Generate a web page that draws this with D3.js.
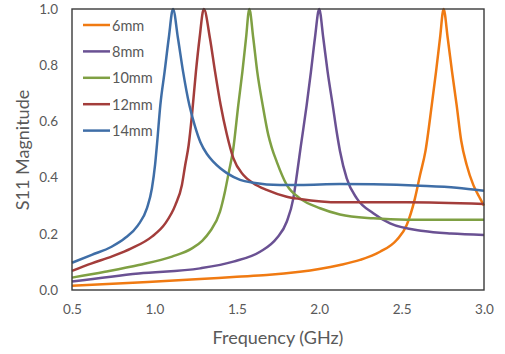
<!DOCTYPE html>
<html>
<head>
<meta charset="utf-8">
<script src="https://cdn.jsdelivr.net/npm/d3@7"></script>
<style>
  html, body { margin: 0; padding: 0; background: #fff; }
  svg { display: block; }
  text { font-family: Lato, "Open Sans", sans-serif; fill: #595959; }
</style>
</head>
<body>
<svg id="chart" width="505" height="354"></svg>
<script>
// S11 magnitude vs frequency (GHz), one [frequency, |S11|] list per slot length
const s11_6mm = [
  [0.50, 0.015], [0.90, 0.027], [1.277, 0.039], [1.50, 0.047], [1.681, 0.053],
  [1.883, 0.065], [2.00, 0.075], [2.126, 0.089], [2.248, 0.107], [2.369, 0.136],
  [2.470, 0.178], [2.531, 0.231], [2.581, 0.326], [2.612, 0.409], [2.645, 0.495],
  [2.683, 0.658], [2.709, 0.777], [2.733, 0.896], [2.755, 1.000], [2.780, 0.896],
  [2.806, 0.777], [2.834, 0.658], [2.862, 0.530], [2.895, 0.445], [2.935, 0.374],
  [2.976, 0.326], [3.00, 0.300]
];
const s11_8mm = [
  [0.50, 0.030], [0.905, 0.059], [1.277, 0.077], [1.479, 0.101], [1.641, 0.136],
  [1.742, 0.184], [1.803, 0.243], [1.843, 0.326], [1.867, 0.421], [1.888, 0.510],
  [1.924, 0.658], [1.950, 0.777], [1.974, 0.896], [2.000, 1.000], [2.025, 0.896],
  [2.051, 0.777], [2.082, 0.658], [2.106, 0.563], [2.126, 0.495], [2.167, 0.397],
  [2.228, 0.326], [2.328, 0.273], [2.430, 0.237], [2.632, 0.210], [2.80, 0.201],
  [3.00, 0.196]
];
const s11_10mm = [
  [0.50, 0.044], [0.70, 0.065], [0.905, 0.089], [1.107, 0.119], [1.228, 0.148],
  [1.290, 0.175], [1.337, 0.208], [1.398, 0.279], [1.428, 0.350], [1.452, 0.421],
  [1.478, 0.500], [1.509, 0.658], [1.534, 0.777], [1.556, 0.896], [1.576, 1.000],
  [1.600, 0.896], [1.624, 0.777], [1.657, 0.658], [1.691, 0.552], [1.712, 0.507],
  [1.742, 0.457], [1.803, 0.374], [1.883, 0.326], [2.005, 0.291], [2.126, 0.269],
  [2.328, 0.255], [2.531, 0.250], [3.00, 0.250]
];
const s11_12mm = [
  [0.50, 0.068], [0.62, 0.095], [0.74, 0.119], [0.86, 0.148], [0.985, 0.190],
  [1.066, 0.237], [1.127, 0.302], [1.167, 0.374], [1.187, 0.445], [1.208, 0.516],
  [1.228, 0.623], [1.252, 0.777], [1.274, 0.896], [1.300, 1.000], [1.337, 0.896],
  [1.368, 0.777], [1.402, 0.658], [1.439, 0.555], [1.479, 0.469], [1.540, 0.409],
  [1.600, 0.380], [1.681, 0.356], [1.803, 0.332], [1.883, 0.324], [2.126, 0.312],
  [2.531, 0.312], [3.00, 0.306]
];
const s11_14mm = [
  [0.50, 0.097], [0.62, 0.125], [0.74, 0.154], [0.82, 0.184], [0.90, 0.230],
  [0.955, 0.291], [0.985, 0.362], [1.004, 0.445], [1.016, 0.520], [1.036, 0.658],
  [1.062, 0.777], [1.087, 0.896], [1.113, 1.000], [1.143, 0.896], [1.174, 0.777],
  [1.212, 0.658], [1.245, 0.585], [1.280, 0.525], [1.320, 0.483], [1.360, 0.455],
  [1.400, 0.433], [1.440, 0.416], [1.520, 0.392], [1.600, 0.382], [1.762, 0.374],
  [1.883, 0.374], [2.126, 0.377], [2.328, 0.376], [2.612, 0.371], [2.834, 0.364],
  [3.00, 0.353]
];

const seriesNames = ["6mm", "8mm", "10mm", "12mm", "14mm"];
const seriesData = [s11_6mm, s11_8mm, s11_10mm, s11_12mm, s11_14mm];
const seriesColors = ["#F07A12", "#6A5193", "#7FA043", "#A33D3B", "#3F6EA7"];

const xTicks = [0.5, 1.0, 1.5, 2.0, 2.5, 3.0];
const yTicks = [0.0, 0.2, 0.4, 0.6, 0.8, 1.0];

const xTitle = "Frequency (GHz)";
const yTitle = "S11 Magnitude";

const svg = d3.select("#chart");
const plot = { left: 72, right: 484, top: 9, bottom: 290 };

const x = d3.scaleLinear().domain([0.5, 3.0]).range([plot.left, plot.right]);
const y = d3.scaleLinear().domain([0, 1]).range([plot.bottom, plot.top]);

// axes: labels only, the frame is drawn separately
const fmt = d3.format(".1f");
const xAxis = svg.append("g")
  .attr("transform", `translate(0,${plot.bottom})`)
  .call(d3.axisBottom(x).tickValues(xTicks).tickFormat(fmt).tickSize(0).tickPadding(14));
const yAxis = svg.append("g")
  .attr("transform", `translate(${plot.left},0)`)
  .call(d3.axisLeft(y).tickValues(yTicks).tickFormat(fmt).tickSize(0).tickPadding(14));
[xAxis, yAxis].forEach(g => {
  g.select(".domain").remove();
  g.selectAll("text").attr("font-size", 13.5).style("font-family", "Lato, 'Open Sans', sans-serif").attr("fill", "#595959");
});

// curves
const line = d3.line()
  .x(d => x(d[0]))
  .y(d => y(d[1]))
  .curve(d3.curveMonotoneX);

svg.append("g")
  .selectAll("path")
  .data(seriesData)
  .join("path")
  .attr("d", line)
  .attr("fill", "none")
  .attr("stroke", (d, i) => seriesColors[i])
  .attr("stroke-width", 2.5)
  .attr("stroke-linejoin", "round");

// plot frame
svg.append("rect")
  .attr("x", plot.left)
  .attr("y", plot.top)
  .attr("width", plot.right - plot.left)
  .attr("height", plot.bottom - plot.top)
  .attr("fill", "none")
  .attr("stroke", "#3a3a3a")
  .attr("stroke-width", 1.4);

// legend
const legend = svg.append("g");
seriesNames.forEach((name, i) => {
  const ly = 25 + i * 26.4;
  legend.append("line")
    .attr("x1", 83).attr("x2", 110)
    .attr("y1", ly).attr("y2", ly)
    .attr("stroke", seriesColors[i])
    .attr("stroke-width", 2.5);
  legend.append("text")
    .attr("x", 112).attr("y", ly)
    .attr("dominant-baseline", "central")
    .attr("font-size", 14.5)
    .text(name);
});

// axis titles
svg.append("text")
  .attr("x", 278).attr("y", 337)
  .attr("text-anchor", "middle")
  .attr("dominant-baseline", "central")
  .attr("font-size", 18)
  .text(xTitle);

svg.append("text")
  .attr("transform", "translate(22,150) rotate(-90)")
  .attr("text-anchor", "middle")
  .attr("dominant-baseline", "central")
  .attr("font-size", 18)
  .text(yTitle);
</script>
</body>
</html>
